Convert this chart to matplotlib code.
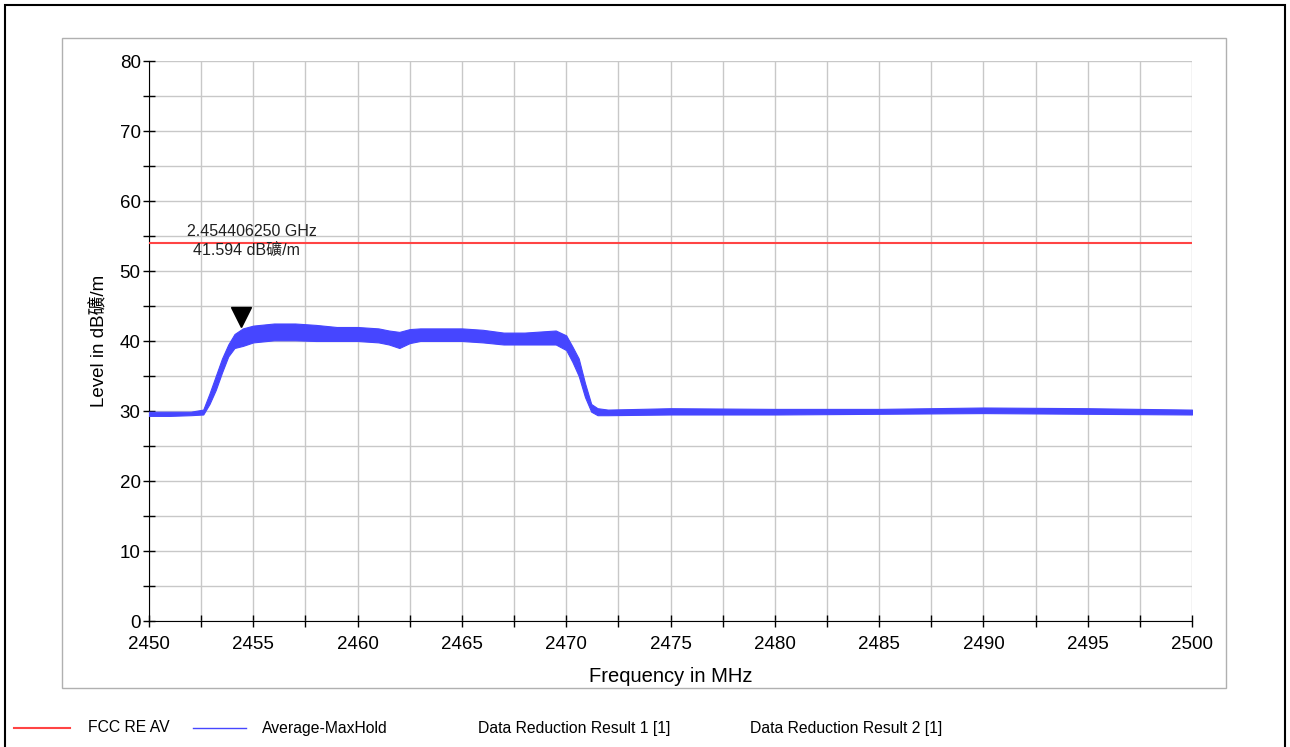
import numpy as np
import matplotlib
matplotlib.use('Agg')
import matplotlib.pyplot as plt
from matplotlib.lines import Line2D
from matplotlib.patches import Rectangle

plt.rcParams['font.family'] = ['Liberation Sans', 'Noto Sans CJK SC', 'DejaVu Sans']

# trace envelope (MHz, dBuV/m)
freq = [2450, 2451, 2452, 2452.6, 2452.9, 2453.2, 2453.5, 2453.8, 2454.1, 2454.5,
        2455, 2456, 2457, 2458, 2459, 2460, 2461, 2461.5, 2462, 2462.5,
        2463, 2464, 2465, 2466, 2467, 2468, 2469, 2469.5, 2470, 2470.3,
        2470.6, 2470.9, 2471.2, 2471.5, 2472, 2475, 2480, 2485, 2490, 2495, 2500]
lo = [29.3, 29.3, 29.4, 29.5, 31.0, 33.0, 35.5, 37.8, 39.0, 39.3,
      39.8, 40.1, 40.1, 40.0, 40.0, 40.0, 39.8, 39.5, 39.0, 39.7,
      40.0, 40.0, 40.0, 39.8, 39.5, 39.5, 39.5, 39.5, 38.7, 37.0,
      35.0, 32.0, 29.9, 29.4, 29.4, 29.5, 29.5, 29.6, 29.7, 29.6, 29.5]
hi = [29.9, 29.9, 29.9, 30.2, 32.5, 35.0, 37.5, 39.5, 41.0, 41.8,
      42.2, 42.5, 42.5, 42.3, 42.0, 42.0, 41.8, 41.5, 41.3, 41.7,
      41.8, 41.8, 41.8, 41.6, 41.2, 41.2, 41.4, 41.5, 40.8, 39.2,
      37.5, 34.0, 31.0, 30.4, 30.2, 30.4, 30.3, 30.3, 30.5, 30.4, 30.2]

limit_level = 54
marker_f = 2454.40625
marker_level = 41.594

legend_names = ['FCC RE AV', 'Average-MaxHold', 'Data Reduction Result 1 [1]', 'Data Reduction Result 2 [1]']

red = '#ff4444'
blue = '#4646ff'

fig = plt.figure(figsize=(12.9, 7.47), dpi=100)
W, H = 1290, 747

# outer black frame and grey chart frame
fig.patches.append(Rectangle((5 / W, -10 / H), 1280 / W, 752 / H, transform=fig.transFigure,
                             fill=False, edgecolor='black', linewidth=1.5))
fig.patches.append(Rectangle((62 / W, (H - 688) / H), 1164 / W, 650 / H, transform=fig.transFigure,
                             fill=False, edgecolor='#b0b0b0', linewidth=1))

ax = fig.add_axes([149 / W, (H - 621) / H, 1043 / W, 560 / H])
ax.set_xlim(2450, 2500)
ax.set_ylim(0, 80)

ax.set_xticks(np.arange(2450, 2501, 5))
ax.set_xticks(np.arange(2452.5, 2500, 5), minor=True)
ax.set_yticks(np.arange(0, 81, 10))
ax.set_yticks(np.arange(5, 80, 10), minor=True)
ax.grid(True, which='both', color='#c8c8c8', linewidth=1)
ax.set_axisbelow(True)
for s in ['top', 'right']:
    ax.spines[s].set_visible(False)
ax.tick_params(which='both', direction='inout', length=8, width=1, labelsize=13.5, pad=2)
ax.tick_params(axis='x', pad=7)

ax.axhline(limit_level, color=red, linewidth=1.5, zorder=3)
ax.fill_between(freq, lo, hi, color=blue, linewidth=0.8, zorder=4)
ax.plot(marker_f, marker_level + 1.8, marker='v', color='black', markersize=15, zorder=5)

ax.text(2451.8, 55.7, '2.454406250 GHz', fontsize=11.5, va='center', color='#202020')
ax.text(2452.1, 53.1, '41.594 dB礦/m', fontsize=11.5, va='center', color='#202020')

ax.set_xlabel('Frequency in MHz', fontsize=14.5, labelpad=10)
ax.set_ylabel('Level in dB礦/m', fontsize=13.5, labelpad=9)

# legend row at the bottom
ly = (H - 728) / H
fig.add_artist(Line2D([14 / W, 70 / W], [ly, ly], color=red, linewidth=1.5))
fig.text(88 / W, ly, legend_names[0], fontsize=11.3, va='center')
fig.add_artist(Line2D([193 / W, 246 / W], [ly, ly], color=blue, linewidth=1))
fig.text(262 / W, ly, legend_names[1], fontsize=11.3, va='center')
fig.text(478 / W, ly, legend_names[2], fontsize=11.3, va='center')
fig.text(750 / W, ly, legend_names[3], fontsize=11.3, va='center')

fig.savefig('out.png', dpi=100)
